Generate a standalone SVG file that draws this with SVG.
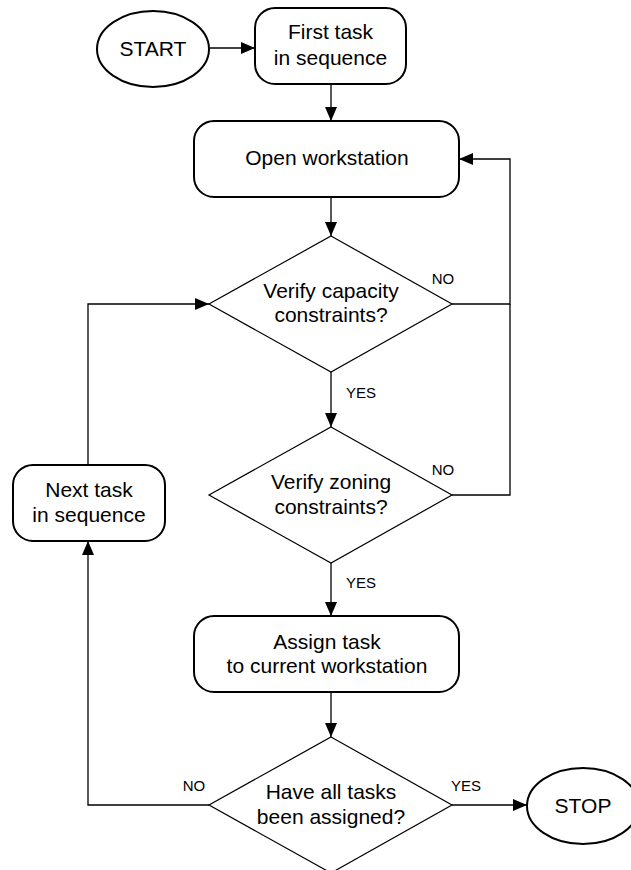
<svg xmlns="http://www.w3.org/2000/svg" width="631" height="870" viewBox="0 0 631 870">
  <style>
    .term { fill: #fff; stroke: #000; stroke-width: 2; }
    .box { fill: #fff; stroke: #000; stroke-width: 2; }
    .dec { fill: #fff; stroke: #000; stroke-width: 1.2; }
    .lbl { font-family: "Liberation Sans", Arial, sans-serif; font-size: 21px; fill: #000; text-anchor: middle; }
    .tag { font-family: "Liberation Sans", Arial, sans-serif; font-size: 15px; fill: #000; text-anchor: middle; }
    .edge { fill: none; stroke: #000; stroke-width: 1.3; }
  </style>
  <defs>
    <marker id="arrow" viewBox="0 0 14 12" refX="14" refY="6" markerWidth="14" markerHeight="12" markerUnits="userSpaceOnUse" orient="auto">
      <path d="M0,0 L14,6 L0,12 Z" fill="#000"/>
    </marker>
  </defs>

  <rect width="631" height="870" fill="#fff"/>

  <!-- connectors -->
  <g id="connectors">
    <line class="edge" x1="210" y1="48" x2="255" y2="48" marker-end="url(#arrow)"/>
    <line class="edge" x1="331" y1="84" x2="331" y2="121" marker-end="url(#arrow)"/>
    <line class="edge" x1="331" y1="197" x2="331" y2="236" marker-end="url(#arrow)"/>
    <line class="edge" x1="331" y1="372" x2="331" y2="427" marker-end="url(#arrow)"/>
    <line class="edge" x1="331" y1="563" x2="331" y2="616" marker-end="url(#arrow)"/>
    <line class="edge" x1="331" y1="692" x2="331" y2="737" marker-end="url(#arrow)"/>
    <!-- NO branches back to the workstation -->
    <polyline class="edge" points="452,304 510,304 510,159 459,159" marker-end="url(#arrow)"/>
    <polyline class="edge" points="452,495 510,495 510,304"/>
    <!-- next task loop -->
    <polyline class="edge" points="209,805 88,805 88,541" marker-end="url(#arrow)"/>
    <polyline class="edge" points="88,465 88,304 209,304" marker-end="url(#arrow)"/>
    <!-- finish -->
    <line class="edge" x1="452" y1="805" x2="527" y2="805" marker-end="url(#arrow)"/>

    <text class="tag" x="443" y="284">NO</text>
    <text class="tag" x="361" y="398">YES</text>
    <text class="tag" x="443" y="475">NO</text>
    <text class="tag" x="361" y="588">YES</text>
    <text class="tag" x="194" y="791">NO</text>
    <text class="tag" x="466" y="791">YES</text>
  </g>

  <g id="start">
    <ellipse class="term" cx="153" cy="49" rx="56" ry="38"/>
    <text class="lbl" x="153" y="56">START</text>
  </g>

  <g id="first-task">
    <rect class="box" x="255" y="8" width="151" height="76" rx="20" ry="20"/>
    <text class="lbl" x="330.5" y="39">First task</text>
    <text class="lbl" x="330.5" y="65">in sequence</text>
  </g>

  <g id="open-workstation">
    <rect class="box" x="194" y="121" width="265" height="76" rx="20" ry="20"/>
    <text class="lbl" x="327" y="165">Open workstation</text>
  </g>

  <g id="verify-capacity">
    <polygon class="dec" points="331,236 452,304 331,372 209,304"/>
    <text class="lbl" x="331" y="298">Verify capacity</text>
    <text class="lbl" x="331" y="322">constraints?</text>
  </g>

  <g id="verify-zoning">
    <polygon class="dec" points="331,427 452,495 331,563 209,495"/>
    <text class="lbl" x="331" y="489">Verify zoning</text>
    <text class="lbl" x="331" y="514">constraints?</text>
  </g>

  <g id="next-task">
    <rect class="box" x="13" y="465" width="152" height="76" rx="20" ry="20"/>
    <text class="lbl" x="89" y="497">Next task</text>
    <text class="lbl" x="89" y="522">in sequence</text>
  </g>

  <g id="assign-task">
    <rect class="box" x="194" y="616" width="265" height="76" rx="20" ry="20"/>
    <text class="lbl" x="327" y="649">Assign task</text>
    <text class="lbl" x="327" y="673">to current workstation</text>
  </g>

  <g id="all-assigned">
    <polygon class="dec" points="331,737 452,805 331,873 209,805"/>
    <text class="lbl" x="331" y="799">Have all tasks</text>
    <text class="lbl" x="331" y="824">been assigned?</text>
  </g>

  <g id="stop">
    <ellipse class="term" cx="583" cy="806" rx="56" ry="38"/>
    <text class="lbl" x="583" y="813">STOP</text>
  </g>
</svg>
